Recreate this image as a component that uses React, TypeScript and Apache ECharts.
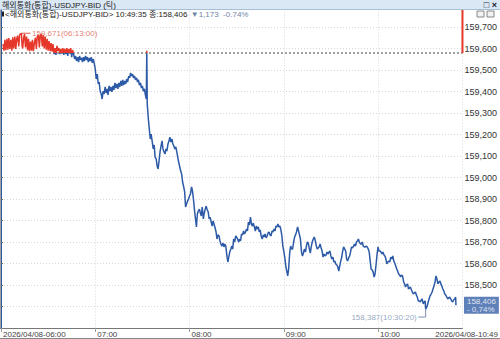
import React, { useEffect, useRef } from 'react';
import * as echarts from 'echarts';

// minutes after 06:00
const TIMES = [
  1.3, 1.9, 2.5, 3.1, 3.8, 4.4, 5.0, 5.6, 6.3, 6.9, 7.5, 8.1, 8.8, 9.4, 10.0, 10.6, 11.3, 11.9, 13.0, 13.4,
  13.8, 14.4, 15.0, 15.6, 16.3, 16.9, 17.5, 18.1, 18.8, 19.4, 20.0, 20.6, 21.3, 21.9, 22.5, 23.1, 23.8, 24.4, 25.0, 25.6,
  26.3, 26.9, 27.5, 28.1, 28.8, 29.4, 30.0, 30.6, 31.3, 31.9, 32.5, 33.1, 33.8, 34.4, 35.0, 35.6, 36.3, 36.9, 37.5, 38.1,
  38.8, 39.4, 40.0, 40.6, 41.3, 41.9, 42.5, 43.1, 43.8, 44.4, 45.0, 45.6, 46.3, 46.9, 47.5, 48.1, 48.8, 49.4, 50.0, 50.6,
  51.3, 51.9, 52.5, 53.1, 53.8, 54.4, 55.0, 55.6, 56.3, 56.9, 57.5, 58.1, 58.8, 59.4, 60.0, 60.6, 61.3, 61.9, 62.5, 63.1,
  63.8, 64.4, 65.0, 65.6, 66.3, 66.9, 67.5, 68.1, 68.8, 69.4, 70.0, 70.6, 71.3, 71.9, 72.5, 73.1, 73.8, 74.4, 75.0, 75.6,
  76.3, 76.9, 77.5, 78.1, 78.8, 79.4, 80.0, 80.6, 81.3, 81.9, 82.5, 83.1, 83.8, 84.4, 85.0, 85.6, 86.3, 86.9, 87.5, 88.1,
  88.8, 89.4, 90.0, 90.6, 91.3, 91.9, 92.5, 92.8, 93.1, 93.8, 94.4, 95.0, 95.6, 96.3, 96.9, 97.5, 98.1, 98.8, 99.4, 100.0,
  100.6, 101.3, 101.9, 102.5, 103.1, 103.8, 104.4, 105.0, 105.6, 106.3, 106.9, 107.5, 108.1, 108.8, 109.4, 110.0, 110.6, 111.3, 111.9, 112.5,
  113.1, 113.8, 114.4, 115.0, 115.6, 116.3, 116.9, 117.5, 118.1, 118.8, 119.4, 120.0, 120.6, 121.3, 121.9, 122.5, 123.1, 123.8, 124.4, 125.0,
  125.6, 126.3, 126.9, 127.5, 128.1, 128.8, 129.4, 130.0, 130.6, 131.3, 131.9, 132.5, 133.1, 133.8, 134.4, 135.0, 135.6, 136.3, 136.9, 137.5,
  138.1, 138.8, 139.4, 140.0, 140.6, 141.3, 141.9, 142.5, 143.1, 143.8, 144.4, 145.0, 145.6, 146.3, 146.9, 147.5, 148.1, 148.8, 149.4, 150.0,
  150.6, 151.3, 151.9, 152.5, 153.1, 153.8, 154.4, 155.0, 155.6, 156.3, 156.9, 157.5, 158.1, 158.8, 159.4, 160.0, 160.6, 161.3, 161.9, 162.5,
  163.1, 163.8, 164.4, 165.0, 165.6, 166.3, 166.9, 167.5, 168.1, 168.8, 169.4, 170.0, 170.6, 171.3, 171.9, 172.5, 173.1, 173.8, 174.4, 175.0,
  175.6, 176.3, 176.9, 177.5, 178.1, 178.8, 179.4, 180.0, 180.6, 181.3, 181.9, 182.5, 183.1, 183.8, 184.4, 185.0, 185.6, 186.3, 186.9, 187.5,
  188.1, 188.8, 189.4, 190.0, 190.6, 191.3, 191.9, 192.5, 193.1, 193.8, 194.4, 195.0, 195.6, 196.3, 196.9, 197.5, 198.1, 198.8, 199.4, 200.0,
  200.6, 201.3, 201.9, 202.5, 203.1, 203.8, 204.4, 205.0, 205.6, 206.3, 206.9, 207.5, 208.1, 208.8, 209.4, 210.0, 210.6, 211.3, 211.9, 212.5,
  213.1, 213.8, 214.4, 215.0, 215.6, 216.3, 216.9, 217.5, 218.1, 218.8, 219.4, 220.0, 220.6, 221.3, 221.9, 222.5, 223.1, 223.8, 224.4, 225.0,
  225.6, 226.3, 226.9, 227.5, 228.1, 228.8, 229.4, 230.0, 230.6, 231.3, 231.9, 232.5, 233.1, 233.8, 234.4, 235.0, 235.6, 236.3, 236.9, 237.5,
  238.1, 238.8, 239.4, 240.0, 240.6, 241.3, 241.9, 242.5, 243.1, 243.8, 244.4, 245.0, 245.6, 246.3, 246.9, 247.5, 248.1, 248.8, 249.4, 250.0,
  250.6, 251.3, 251.9, 252.5, 253.1, 253.8, 254.4, 255.0, 255.6, 256.3, 256.9, 257.5, 258.1, 258.8, 259.4, 260.0, 260.6, 261.3, 261.9, 262.5,
  263.1, 263.8, 264.4, 265.0, 265.6, 266.3, 266.9, 267.5, 268.1, 268.8, 269.4, 270.0, 270.33, 271.3, 271.9, 272.5, 273.1, 273.8, 274.4, 275.0,
  275.6, 276.3, 276.9, 277.5, 278.1, 278.8, 279.4, 280.0, 280.6, 281.3, 281.9, 282.5, 283.1, 283.8, 284.4, 285.0, 285.6, 286.3, 286.9, 287.5,
  288.1, 288.8, 289.4, 289.6,
];

const PRICES = [
  159.620, 159.590, 159.640, 159.592, 159.645, 159.595, 159.648, 159.598, 159.640, 159.590, 159.652, 159.600, 159.655, 159.598, 159.645, 159.660, 159.610, 159.665, 159.671, 159.615,
  159.600, 159.650, 159.667, 159.605, 159.655, 159.592, 159.645, 159.588, 159.632, 159.590, 159.640, 159.588, 159.628, 159.650, 159.598, 159.655, 159.665, 159.605, 159.660, 159.668,
  159.610, 159.664, 159.600, 159.655, 159.595, 159.645, 159.590, 159.635, 159.588, 159.625, 159.585, 159.620, 159.574, 159.602, 159.570, 159.612, 159.588, 159.602, 159.574, 159.598,
  159.577, 159.602, 159.570, 159.598, 159.574, 159.602, 159.565, 159.598, 159.577, 159.602, 159.560, 159.593, 159.570, 159.551, 159.565, 159.542, 159.560, 159.537, 159.565, 159.547,
  159.556, 159.537, 159.560, 159.542, 159.565, 159.547, 159.560, 159.537, 159.556, 159.542, 159.560, 159.533, 159.551, 159.528, 159.505, 159.458, 159.481, 159.435, 159.444, 159.402,
  159.388, 159.365, 159.402, 159.388, 159.421, 159.393, 159.412, 159.384, 159.426, 159.402, 159.421, 159.398, 159.426, 159.407, 159.440, 159.416, 159.435, 159.412, 159.440, 159.421,
  159.449, 159.426, 159.454, 159.430, 159.449, 159.435, 159.458, 159.444, 159.472, 159.463, 159.486, 159.472, 159.481, 159.463, 159.472, 159.454, 159.463, 159.444, 159.454, 159.430,
  159.440, 159.416, 159.426, 159.402, 159.412, 159.384, 159.365, 159.590, 159.342, 159.272, 159.226, 159.179, 159.202, 159.165, 159.133, 159.151, 159.095, 159.086, 159.053, 159.040,
  159.077, 159.123, 159.147, 159.170, 159.133, 159.119, 159.109, 159.133, 159.123, 159.156, 159.170, 159.188, 159.165, 159.179, 159.156, 159.147, 159.133, 159.142, 159.119, 159.095,
  159.072, 159.049, 159.030, 159.016, 158.979, 158.956, 158.933, 158.863, 158.877, 158.891, 158.900, 158.914, 158.923, 158.956, 158.937, 158.900, 158.853, 158.807, 158.770, 158.830,
  158.844, 158.853, 158.835, 158.821, 158.863, 158.807, 158.835, 158.853, 158.867, 158.849, 158.840, 158.807, 158.816, 158.793, 158.774, 158.798, 158.784, 158.765, 158.747, 158.714,
  158.733, 158.728, 158.705, 158.691, 158.681, 158.695, 158.677, 158.691, 158.681, 158.635, 158.607, 158.630, 158.653, 158.667, 158.681, 158.667, 158.714, 158.700, 158.728, 158.723,
  158.714, 158.700, 158.714, 158.705, 158.737, 158.733, 158.751, 158.737, 158.747, 158.760, 158.751, 158.793, 158.779, 158.816, 158.784, 158.774, 158.788, 158.770, 158.751, 158.774,
  158.760, 158.770, 158.747, 158.756, 158.728, 158.714, 158.733, 158.723, 158.737, 158.719, 158.728, 158.742, 158.747, 158.733, 158.728, 158.751, 158.747, 158.760, 158.751, 158.774,
  158.770, 158.784, 158.770, 158.774, 158.760, 158.728, 158.681, 158.658, 158.630, 158.588, 158.565, 158.542, 158.574, 158.653, 158.681, 158.667, 158.667, 158.700, 158.723, 158.733,
  158.747, 158.770, 158.751, 158.733, 158.714, 158.653, 158.635, 158.649, 158.667, 158.653, 158.681, 158.700, 158.695, 158.667, 158.649, 158.677, 158.700, 158.714, 158.723, 158.709,
  158.686, 158.667, 158.672, 158.677, 158.691, 158.672, 158.658, 158.630, 158.644, 158.635, 158.640, 158.653, 158.644, 158.653, 158.658, 158.635, 158.621, 158.630, 158.607, 158.612,
  158.598, 158.593, 158.584, 158.565, 158.588, 158.612, 158.630, 158.658, 158.677, 158.667, 158.658, 158.621, 158.612, 158.626, 158.635, 158.653, 158.677, 158.672, 158.681, 158.691,
  158.681, 158.700, 158.705, 158.714, 158.700, 158.691, 158.691, 158.700, 158.681, 158.677, 158.677, 158.681, 158.677, 158.667, 158.653, 158.612, 158.574, 158.570, 158.560, 158.537,
  158.551, 158.598, 158.644, 158.677, 158.658, 158.658, 158.653, 158.644, 158.653, 158.640, 158.635, 158.621, 158.598, 158.607, 158.612, 158.607, 158.630, 158.621, 158.635, 158.612,
  158.602, 158.588, 158.574, 158.565, 158.551, 158.546, 158.537, 158.546, 158.542, 158.514, 158.505, 158.491, 158.500, 158.505, 158.481, 158.486, 158.491, 158.477, 158.467, 158.458,
  158.463, 158.467, 158.453, 158.444, 158.426, 158.426, 158.421, 158.430, 158.435, 158.412, 158.421, 158.426, 158.387, 158.402, 158.421, 158.435, 158.449, 158.458, 158.467, 158.481,
  158.495, 158.514, 158.542, 158.528, 158.505, 158.514, 158.519, 158.505, 158.495, 158.481, 158.472, 158.458, 158.453, 158.444, 158.435, 158.440, 158.444, 158.435, 158.426, 158.421,
  158.430, 158.435, 158.444, 158.406,
];

const PREV_CLOSE = 159.579;
const CHANGE_TEXT = '- 0,74%';
const Y_MIN = 158.3;
const Y_MAX = 159.8;
const Y_STEP = 0.1;
const X_MIN = 0;
const X_MAX = 293.75;
const X_STEP = 60;
const DATE_PREFIX = '2026/04/08-';
const TITLE = '해외통화(통합)-USDJPY-BID (틱)';
const SUBTITLE_MAIN = '<해외통화(통합)-USDJPY-BID> 10:49:35 종:158,406';
const SUBTITLE_CHANGE = '▼1,173  -0.74%';
const END_LABEL = '2026/04/08-10:49';

const FONT = "'Liberation Sans Narrow', 'Liberation Sans', 'Noto Sans CJK KR', sans-serif";
const BLUE = '#2d5aa6';
const RED = '#e6382a';
const MAX_COLOR = '#e05a4a';
const MIN_COLOR = '#7a8fb0';

const fmtPrice = (v: number) => v.toFixed(3).replace('.', ',');
const fmtTime = (m: number) => {
  const s = Math.round(m * 60) + 6 * 3600;
  const hh = Math.floor(s / 3600);
  const mm = Math.floor((s % 3600) / 60);
  const ss = s % 60;
  const p = (n: number) => String(n).padStart(2, '0');
  return `${p(hh)}:${p(mm)}:${p(ss)}`;
};

export default function App() {
  const ref = useRef<HTMLDivElement>(null);
  useEffect(() => {
    if (!ref.current) return;
    const chart = echarts.init(ref.current, undefined, { renderer: 'svg' });
    const data = TIMES.map((t, i) => [t, PRICES[i]]);
    let maxI = 0;
    let minI = 0;
    PRICES.forEach((p, i) => {
      if (p > PRICES[maxI]) maxI = i;
      if (p < PRICES[minI]) minI = i;
    });
    const lastI = PRICES.length - 1;
    const lastPrice = PRICES[lastI];
    const minLeaderY = PRICES[minI] - 0.036;
    const maxLeaderEnd = TIMES[maxI] + 5.8;
    const minLeaderEnd = TIMES[minI] - 4.7;

    const helperLine = (pts: number[][], color: string, width: number, type: any = 'solid') => ({
      type: 'line',
      data: pts,
      symbol: 'none',
      showSymbol: false,
      clip: false,
      silent: true,
      z: 3,
      lineStyle: { color, width, type },
      itemStyle: { color },
    });

    const labelPoint = (pt: number[], text: string, position: string, label: any) => ({
      type: 'scatter',
      data: [pt],
      symbolSize: 1,
      clip: false,
      silent: true,
      z: 5,
      itemStyle: { color: 'rgba(0,0,0,0)' },
      label: { show: true, position, formatter: text, fontFamily: FONT, ...label },
    });

    const option: any = {
      animation: false,
      backgroundColor: '#ffffff',
      grid: { left: -2, right: 32, top: 5.5, bottom: 11, containLabel: false },
      xAxis: {
        type: 'value',
        min: X_MIN,
        max: X_MAX,
        interval: X_STEP,
        axisLine: { show: true, lineStyle: { color: '#777', width: 1 } },
        axisTick: { show: true, length: 4, lineStyle: { color: '#999' } },
        axisLabel: {
          show: true,
          fontSize: 8,
          fontFamily: FONT,
          color: '#444',
          align: 'left',
          margin: 2,
          padding: [0, 0, 0, 2],
          showMaxLabel: false,
          formatter: (v: number) => {
            if (v % 60 !== 0) return '';
            const hh = String(6 + v / 60).padStart(2, '0') + ':00';
            return v === 0 ? DATE_PREFIX + hh : hh;
          },
        },
        splitLine: { show: true, lineStyle: { color: '#d8d8d8', type: [1, 2] } },
      },
      yAxis: {
        type: 'value',
        position: 'right',
        min: Y_MIN,
        max: Y_MAX,
        interval: Y_STEP,
        axisLine: { show: true, lineStyle: { color: BLUE, width: 2 } },
        axisTick: { show: true, length: 2, lineStyle: { color: '#666' } },
        axisLabel: {
          fontSize: 9,
          fontFamily: FONT,
          color: '#333',
          margin: 2,
          showMinLabel: false,
          showMaxLabel: false,
          // the last-price box covers the tick label next to it
          formatter: (v: number) => (Math.abs(v - lastPrice) < 0.03 ? '' : fmtPrice(v)),
        },
        splitLine: { show: true, lineStyle: { color: '#d8d8d8', type: [1, 2] } },
      },
      series: [
        {
          type: 'line',
          data,
          showSymbol: false,
          symbol: 'none',
          z: 4,
          lineStyle: { width: 1.5, color: BLUE },
        },
        helperLine([[X_MIN, PREV_CLOSE], [X_MAX, PREV_CLOSE]], '#444', 1, [2, 2]),
        helperLine([[X_MAX, PREV_CLOSE], [X_MAX, Y_MAX]], RED, 2),
        helperLine([[TIMES[maxI], PRICES[maxI]], [maxLeaderEnd, PRICES[maxI]]], MAX_COLOR, 1),
        helperLine([[TIMES[minI], PRICES[minI]], [TIMES[minI], minLeaderY], [minLeaderEnd, minLeaderY]], MIN_COLOR, 1),
        labelPoint([maxLeaderEnd, PRICES[maxI]], `${fmtPrice(PRICES[maxI])}(${fmtTime(TIMES[maxI])})`, 'right', {
          color: MAX_COLOR, fontSize: 8, distance: 1,
        }),
        labelPoint([minLeaderEnd, minLeaderY], `${fmtPrice(PRICES[minI])}(${fmtTime(TIMES[minI])})`, 'left', {
          color: MIN_COLOR, fontSize: 8, distance: 1,
        }),
        labelPoint([X_MAX, lastPrice], fmtPrice(lastPrice) + '\n' + CHANGE_TEXT, 'right', {
          color: '#ffffff', fontSize: 8, lineHeight: 8, distance: 1,
          backgroundColor: '#3762a8', padding: [1, 3, 0, 3], align: 'left',
        }),
      ],
      graphic: [
        { type: 'rect', z: 100, shape: { x: 0, y: 0, width: 500, height: 10 }, style: { fill: '#dae7f4' } },
        { type: 'line', z: 101, shape: { x1: 0, y1: 9.5, x2: 500, y2: 9.5 }, style: { stroke: '#a8bfd8', lineWidth: 1 } },
        {
          type: 'text', z: 102, x: 2, y: 5,
          style: { text: TITLE, fontSize: 8, fontFamily: FONT, fill: '#222', verticalAlign: 'middle' },
        },
        {
          type: 'text', z: 102, x: 497, y: 5,
          style: { text: '□ ×', fontSize: 9, fontFamily: FONT, fill: '#223', align: 'right', verticalAlign: 'middle', fontWeight: 'bold' },
        },
        { type: 'rect', z: 102, shape: { x: 2, y: 11.5, width: 2, height: 5 }, style: { fill: '#222' } },
        {
          type: 'text', z: 102, x: 5, y: 14.5,
          style: {
            text: `{a|${SUBTITLE_MAIN}} {b|${SUBTITLE_CHANGE}}`,
            fontFamily: FONT,
            verticalAlign: 'middle',
            rich: {
              a: { fontSize: 8, fill: '#222', fontFamily: FONT },
              b: { fontSize: 8, fill: '#6f86a8', fontFamily: FONT },
            },
          },
        },
        { type: 'rect', z: 102, shape: { x: 477, y: 11, width: 7, height: 6 }, style: { fill: '#f2f2f2', stroke: '#888', lineWidth: 1 } },
        { type: 'rect', z: 102, shape: { x: 487, y: 11, width: 7, height: 6 }, style: { fill: '#f2f2f2', stroke: '#888', lineWidth: 1 } },
        { type: 'line', z: 100, shape: { x1: 0.5, y1: 10, x2: 0.5, y2: 328 }, style: { stroke: '#a0a0a0', lineWidth: 1 } },
        { type: 'line', z: 100, shape: { x1: 0, y1: 338.5, x2: 500, y2: 338.5 }, style: { stroke: '#888', lineWidth: 1 } },
        {
          type: 'text', z: 102, x: 498, y: 334,
          style: { text: END_LABEL, fontSize: 8, fontFamily: FONT, fill: '#444', align: 'right', verticalAlign: 'middle' },
        },
      ],
    };
    chart.setOption(option);

    // colour the price line red above the previous close and blue below it
    const py = chart.convertToPixel({ gridIndex: 0 }, [X_MIN, PREV_CLOSE]) as number[];
    const h = 339;
    const off = Math.min(1, Math.max(0, py[1] / h));
    chart.setOption({
      series: [
        {
          lineStyle: {
            width: 1.5,
            color: {
              type: 'linear', x: 0, y: 0, x2: 0, y2: h, global: true,
              colorStops: [
                { offset: 0, color: RED },
                { offset: off, color: RED },
                { offset: off, color: BLUE },
                { offset: 1, color: BLUE },
              ],
            },
          },
        },
      ],
    });
    return () => chart.dispose();
  }, []);
  return (
    <div
      ref={ref}
      style={{ position: 'fixed', left: 0, top: 0, width: 500, height: 339, background: '#fff' }}
    />
  );
}
